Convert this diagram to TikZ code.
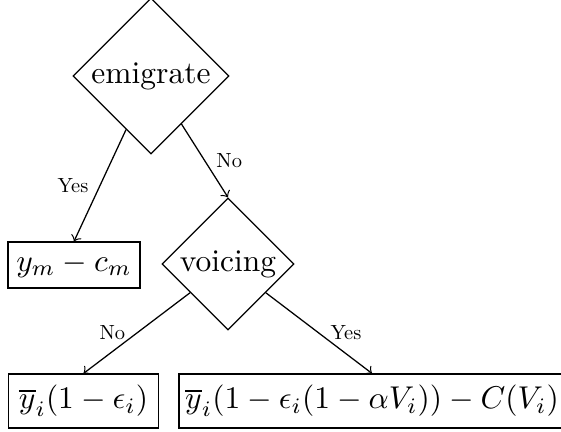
\documentclass[tikz,border=0pt]{standalone}
\usetikzlibrary{shapes.geometric}
\newcommand{\edgetext}[1]{\scalebox{0.65}{#1}}
\begin{document}
\begin{tikzpicture}[x=0.3175pt,y=-0.3175pt,
  decision/.style={draw,diamond,aspect=1,inner sep=0pt,line width=0.4pt},
  outcome/.style={draw,rectangle,inner sep=3.33pt,line width=0.4pt},
  edgelbl/.style={inner sep=3.5pt},
  flow/.style={->,line width=0.4pt}]
\useasboundingbox (0,0) rectangle (561,431);
\node[decision,minimum size=49.5pt] (emig) at (151,76) {emigrate};
\node[decision,minimum size=41.9pt] (voic) at (228,264) {voicing};
\node[outcome,inner xsep=2.6pt,minimum width=41.9pt,minimum height=14.6pt] (ym) at (74,265) {$y_m - c_m$};
\node[outcome,minimum width=46.7pt,minimum height=17.1pt] (bl) at (83.5,401) {$\overline{y}_i(1-\epsilon_i)$};
\node[outcome,inner xsep=2pt,minimum height=17.1pt] (br) at (372,401) {$\overline{y}_i(1-\epsilon_i(1-\alpha V_i))-C(V_i)$};
\draw[flow] (emig) -- node[edgelbl,midway,left] {\edgetext{Yes}} (ym.north);
\draw[flow] (emig) -- node[edgelbl,midway,right] {\edgetext{No}} (voic.north);
\draw[flow] (voic) -- node[edgelbl,midway,left] {\edgetext{No}} (bl.north);
\draw[flow] (voic) -- node[edgelbl,midway,right] {\edgetext{Yes}} (br.north);
\end{tikzpicture}
\end{document}
